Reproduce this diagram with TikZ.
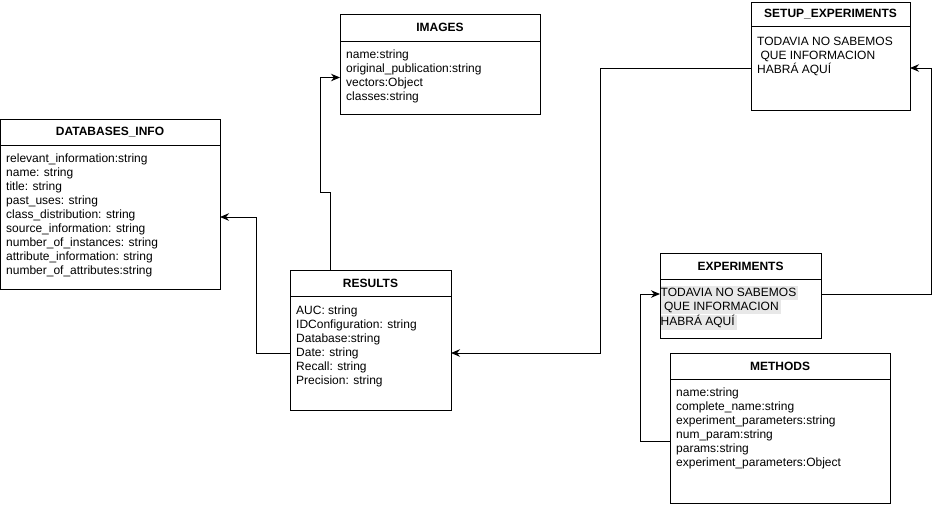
\documentclass[tikz,border=0pt]{standalone}
\usepackage{fontspec}
\setmainfont{Liberation Sans}
\usetikzlibrary{positioning,arrows.meta}
\definecolor{hlgray}{RGB}{232,232,232}
\setlength{\fboxsep}{0pt}

\begin{document}
\begin{tikzpicture}[x=1pt,y=-1pt,
        tblhead/.style={draw,line width=1pt,outer sep=0pt,inner sep=0pt,anchor=north west,minimum height=26pt,font=\bfseries\fontsize{12}{14}\selectfont},
        tblbody/.style={draw,line width=1pt,outer sep=0pt,inner sep=0pt},
        tbltext/.style={anchor=north west,align=left,inner sep=0pt,font=\fontsize{12}{14}\selectfont},
        link/.style={line width=1pt,-{Stealth[length=9pt,width=7.5pt]}}]
        \useasboundingbox (0,0) rectangle (939,507);

        \node[tblhead,minimum width=220pt] (dbinfo) at (0,119) {DATABASES\_INFO};
        \node[tblbody,minimum width=220pt,minimum height=144pt,below=0pt of dbinfo] (dbinfo-body) {};
        \node[tbltext] (dbinfo-text) at ([shift={(6pt,-7pt)}]dbinfo-body.north west) {\strut relevant\_information:string\\name: string\\title: string\\past\_uses: string\\class\_distribution: string\\source\_information: string\\number\_of\_instances: string\\attribute\_information: string\\number\_of\_attributes:string};

        \node[tblhead,minimum width=161pt] (results) at (290,270) {RESULTS};
        \node[tblbody,minimum width=161pt,minimum height=114pt,below=0pt of results] (results-body) {};
        \node[tbltext] (results-text) at ([shift={(6pt,-8pt)}]results-body.north west) {\strut AUC: string\\IDConfiguration: string\\Database:string\\Date: string\\Recall: string\\Precision: string};

        \node[tblhead,minimum width=200pt,minimum height=27pt] (images) at (340,14) {IMAGES};
        \node[tblbody,minimum width=200pt,minimum height=73pt,below=0pt of images] (images-body) {};
        \node[tbltext] (images-text) at ([shift={(6pt,-7.5pt)}]images-body.north west) {\strut name:string\\original\_publication:string\\vectors:Object\\classes:string};

        \node[tblhead,minimum width=159pt,minimum height=24pt] (setup) at (751,2) {SETUP\_EXPERIMENTS};
        \node[tblbody,minimum width=159pt,minimum height=84pt,below=0pt of setup] (setup-body) {};
        \node[tbltext] (setup-text) at ([shift={(6pt,-9.5pt)}]setup-body.north west) {\strut TODAVIA NO SABEMOS\\\hspace*{3.3pt}QUE INFORMACION\\HABRÁ AQUÍ};

        \node[tblhead,minimum width=161pt] (experiments) at (660,253) {EXPERIMENTS};
        \node[tblbody,minimum width=161pt,minimum height=59pt,below=0pt of experiments] (experiments-body) {};
        \node[tbltext] (experiments-text) at ([shift={(0.5pt,-7pt)}]experiments-body.north west) {\colorbox{hlgray}{\strut TODAVIA NO SABEMOS\,}\\\colorbox{hlgray}{\strut\hspace*{3.3pt}QUE INFORMACION\,}\\\colorbox{hlgray}{\strut HABRÁ AQUÍ\,}};

        \node[tblhead,minimum width=220pt] (methods) at (670,353) {METHODS};
        \node[tblbody,minimum width=220pt,minimum height=124pt,below=0pt of methods] (methods-body) {};
        \node[tbltext] (methods-text) at ([shift={(6pt,-7pt)}]methods-body.north west) {\strut name:string\\complete\_name:string\\experiment\_parameters:string\\num\_param:string\\params:string\\experiment\_parameters:Object};

        \draw[link] ([xshift=-40pt]results.north) -- ++(0,-78) -- ++(-10,0) |- (images-body.west);
        \draw[link] (results-body.west) -- ++(-34,0) |- (dbinfo-body.east);
        \draw[link] (setup-body.west) -- ++(-151,0) |- (results-body.east);
        \draw[link] ([yshift=14.5pt]experiments-body.east) -- ++(110,0) |- (setup-body.east);
        \draw[link] (methods-body.west) -- ++(-30,0) |- ([yshift=14.5pt]experiments-body.west);
    \end{tikzpicture}
\end{document}
